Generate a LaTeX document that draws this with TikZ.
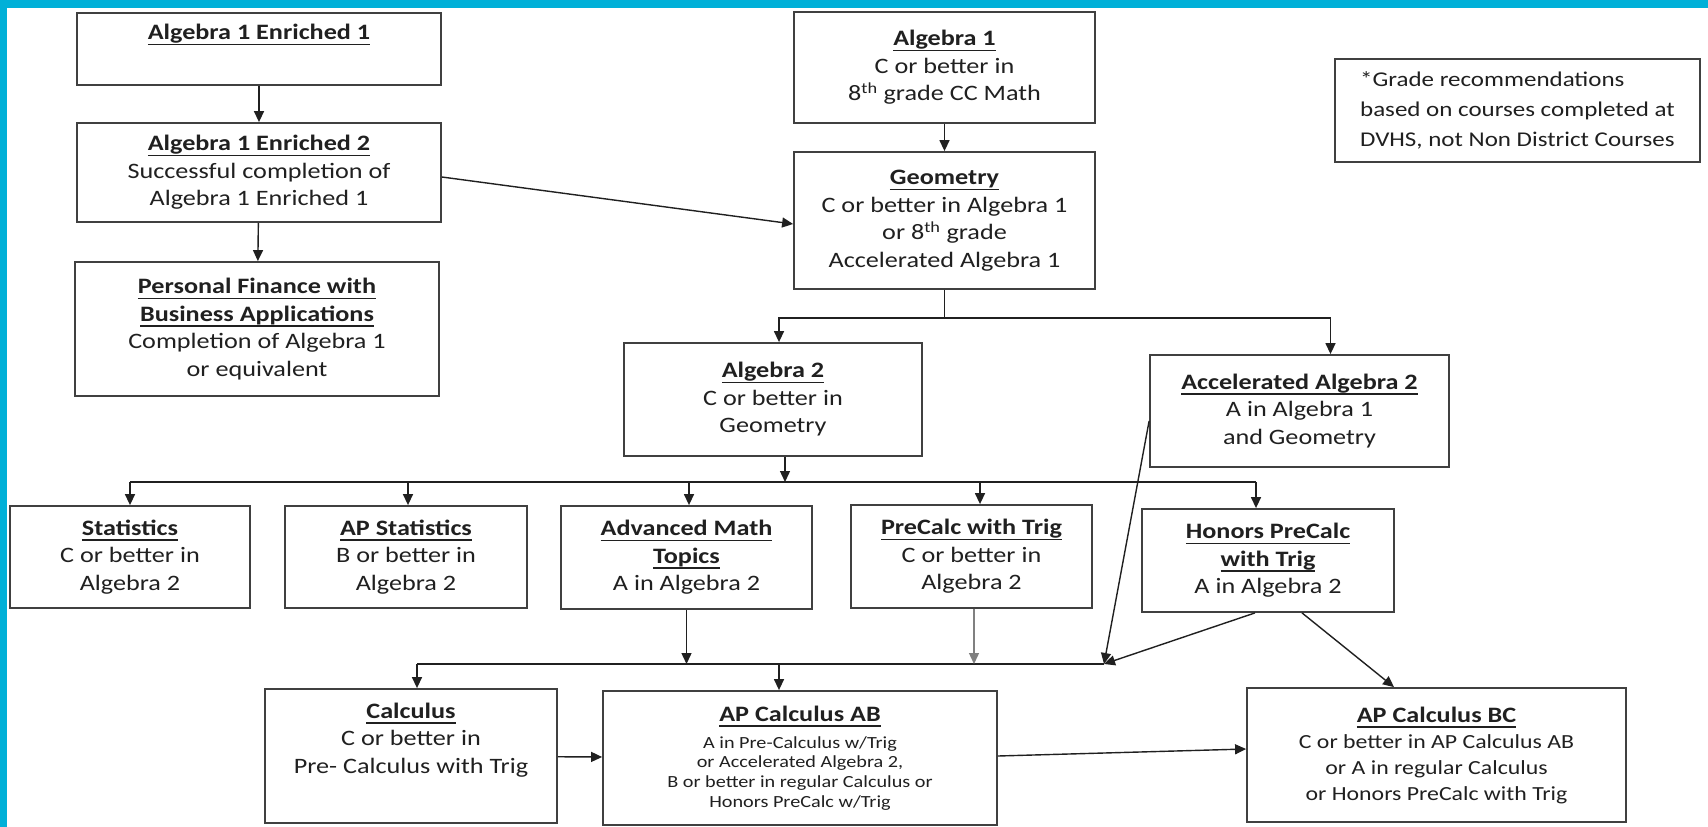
\documentclass[tikz,border=0pt]{standalone}
\usepackage{fontspec}
\setmainfont{Carlito}[FakeStretch=1.19]
\usetikzlibrary{arrows.meta}

\definecolor{frameblue}{RGB}{0,176,216}
\definecolor{boxgray}{RGB}{64,64,64}
\definecolor{inkgray}{RGB}{32,32,32}

% underlined bold course title
\newsavebox{\titlebox}
\newcommand{\ctitle}[1]{\sbox{\titlebox}{\bfseries #1}\rlap{\rule[-5.5pt]{\wd\titlebox}{1.5pt}}\usebox{\titlebox}}

\tikzset{
  course/.style={draw=boxgray, line width=1.8pt, align=center, inner sep=0pt,
    text=inkgray, font=\fontsize{22}{27.5}\selectfont},
  link/.style={draw=inkgray, line width=1.4pt, -{Triangle[length=11pt,width=10pt]}},
  bus/.style={draw=inkgray, line width=1.4pt},
}

\begin{document}
\begin{tikzpicture}[x=1pt, y=-1pt]

    % Page and frame
    \useasboundingbox (0,0) rectangle (1708,827);
    \fill[white] (0,0) rectangle (1708,827);
    \fill[frameblue] (0,0) rectangle (1708,8);
    \fill[frameblue] (0,0) rectangle (7,827);

    % Enriched track
    \node[course, minimum width=364pt, minimum height=72pt, text depth=34pt] (enrA) at (259,49) {\ctitle{Algebra 1 Enriched 1}};
    \node[course, minimum width=364pt, minimum height=99pt] (enrB) at (259,172.5) {\ctitle{Algebra 1 Enriched 2}\\ Successful completion of\\ Algebra 1 Enriched 1};
    \node[course, minimum width=364pt, minimum height=134pt] (fin) at (257,329) {\ctitle{Personal Finance with}\\ \ctitle{Business Applications}\\ Completion of Algebra 1\\ or equivalent};

    % Main track
    \node[course, minimum width=301pt, minimum height=111pt] (alg1) at (944.5,67.5) {\ctitle{Algebra 1}\\ C or better in\\ 8\textsuperscript{th} grade CC Math};
    \node[course, minimum width=301pt, minimum height=137pt] (geo) at (944.5,220.5) {\ctitle{Geometry}\\ C or better in Algebra 1\\ or 8\textsuperscript{th} grade\\ Accelerated Algebra 1};
    \node[course, minimum width=298pt, minimum height=113pt] (alg2) at (773,399.5) {\ctitle{Algebra 2}\\ C or better in\\ Geometry};
    \node[course, minimum width=299pt, minimum height=112pt] (acc) at (1299.5,411) {\ctitle{Accelerated Algebra 2}\\ A in Algebra 1\\ and Geometry};

    % Note
    \node[course, align=left, minimum width=365pt, minimum height=103pt, font=\fontsize{21}{30}\selectfont] (note) at (1517.5,110.5) {*Grade recommendations\\ based on courses completed at\\ DVHS, not Non District Courses};

    % After Algebra 2
    \node[course, minimum width=240pt, minimum height=102pt] (stat) at (130,557) {\ctitle{Statistics}\\ C or better in\\ Algebra 2};
    \node[course, minimum width=242pt, minimum height=102pt] (apstat) at (406,557) {\ctitle{AP Statistics}\\ B or better in\\ Algebra 2};
    \node[course, minimum width=251pt, minimum height=103pt] (adv) at (686.5,557.5) {\ctitle{Advanced Math}\\ \ctitle{Topics}\\ A in Algebra 2};
    \node[course, minimum width=241pt, minimum height=103pt] (pre) at (971.5,556.5) {\ctitle{PreCalc with Trig}\\ C or better in\\ Algebra 2};
    \node[course, minimum width=252pt, minimum height=103pt] (hon) at (1268,560.5) {\ctitle{Honors PreCalc}\\ \ctitle{with Trig}\\ A in Algebra 2};

    % Calculus row
    \node[course, minimum width=292pt, minimum height=134pt, text depth=36pt] (calc) at (411,756) {\ctitle{Calculus}\\ C or better in\\ Pre- Calculus with Trig};
    \node[course, minimum width=394pt, minimum height=134pt, font=\fontsize{17}{19.7}\selectfont] (ab) at (800,758) {{\fontsize{22}{27.5}\selectfont\ctitle{AP Calculus AB}}\\[7pt] A in Pre-Calculus w/Trig\\ or Accelerated Algebra 2,\\ B or better in regular Calculus or\\ Honors PreCalc w/Trig};
    \node[course, minimum width=379pt, minimum height=134pt, font=\fontsize{20}{26}\selectfont] (bc) at (1436.5,755) {{\fontsize{22}{27.5}\selectfont\ctitle{AP Calculus BC}}\\ C or better in AP Calculus AB\\ or A in regular Calculus\\ or Honors PreCalc with Trig};

    % Enriched track arrows
    \draw[link] (enrA) -- (enrB);
    \draw[link] (enrB) -- (fin);
    \draw[link] ([yshift=-4.5pt]enrB.east) -- ([yshift=-3.5pt]geo.west);
    \draw[link] (alg1) -- (geo);

    % Geometry split
    \coordinate (geosplit) at (944.5,318);
    \draw[bus] (geo.south) -- (geosplit);
    \draw[link] (geosplit) -| ([xshift=6pt]alg2.north);
    \draw[link] (geosplit) -| ([xshift=31pt]acc.north);

    % Algebra 2 branches
    \coordinate (algsplit) at (785,482);
    \draw[link] ([xshift=12pt]alg2.south) -- (algsplit);
    \draw[bus] (130,482) -- (1256,482);
    \foreach \crs/\dx in {stat/130, apstat/408, adv/689, pre/980, hon/1256} {
        \coordinate (drop) at (\dx,482);
        \draw[link] (drop) -- (drop |- \crs.north);
    }

    % Merge into the calculus row
    \coordinate (calcsplit) at (1104,664);
    \coordinate (calcdrop) at (417,664);
    \coordinate (abdrop) at (779,664);
    \draw[bus] (calcdrop) -- (calcsplit);
    \draw[link] (calcdrop) -- (calcdrop |- calc.north);
    \draw[link] (abdrop) -- (abdrop |- ab.north);
    \draw[link] (adv.south) -- (adv.south |- calcsplit);
    \draw[link, draw=gray] ([xshift=2.5pt]pre.south) -- ([xshift=2.5pt]pre.south |- calcsplit);
    \draw[link] ([yshift=-10pt]acc.west) -- (calcsplit);
    \draw[link] ([xshift=-13pt]hon.south) -- (calcsplit);
    \draw[link] ([xshift=34pt]hon.south) -- ([xshift=-42.5pt]bc.north);

    % Calculus to AP tracks
    \draw[link] (calc) -- (ab);
    \draw[link] ([yshift=2pt]ab.east) -- ([yshift=6pt]bc.west);

\end{tikzpicture}
\end{document}
